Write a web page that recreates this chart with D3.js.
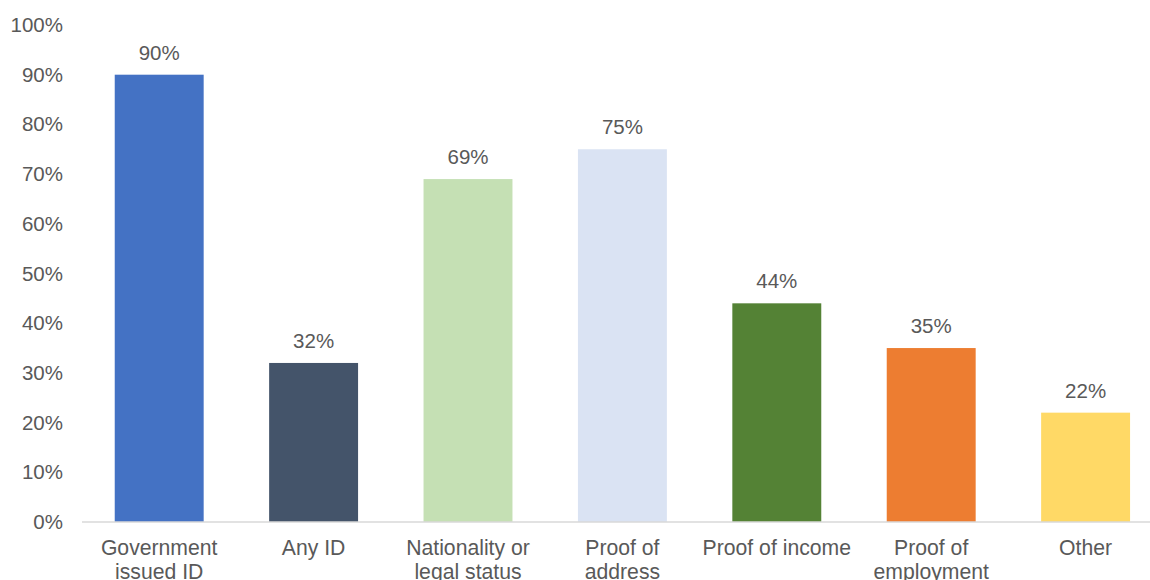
<!DOCTYPE html>
<html>
<head>
<meta charset="utf-8">
<script src="https://cdn.jsdelivr.net/npm/d3@7"></script>
<style>
  html, body { margin: 0; padding: 0; background: #fff; }
  svg { display: block; font-family: "Liberation Sans", Arial, sans-serif; }
</style>
</head>
<body>
<svg id="chart" width="1150" height="580"></svg>
<script>
// Documents requested, share of respondents
const categories = [
  ["Government", "issued ID"],
  ["Any ID"],
  ["Nationality or", "legal status"],
  ["Proof of", "address"],
  ["Proof of income"],
  ["Proof of", "employment"],
  ["Other"]
];
const values = [90, 32, 69, 75, 44, 35, 22];
const barColors = ["#4472C4", "#44546A", "#C5E0B4", "#DAE3F3", "#548235", "#ED7D31", "#FFD966"];
const yTicks = [0, 10, 20, 30, 40, 50, 60, 70, 80, 90, 100];

const svg = d3.select("#chart");
const textColor = "#595959";
const fontSize = 20.5;
const catFontSize = 21.2;

const keys = categories.map(c => c.join(" "));

const x = d3.scaleBand()
  .domain(keys)
  .range([82, 82 + 7 * 154.4])
  .paddingInner(0.424)
  .paddingOuter(0.212);

const y = d3.scaleLinear()
  .domain([0, 100])
  .range([522, 25]);

// Y axis labels (no axis line, no ticks)
const yAxis = d3.axisLeft(y)
  .tickValues(yTicks)
  .tickFormat(d => d + "%")
  .tickSize(0)
  .tickPadding(0);

const yg = svg.append("g")
  .attr("transform", "translate(63,0)")
  .call(yAxis);
yg.select(".domain").remove();
yg.selectAll("text")
  .attr("fill", textColor)
  .attr("font-size", fontSize)
  .attr("font-family", "Liberation Sans, Arial, sans-serif");

// Bars
svg.append("g").selectAll("rect")
  .data(values)
  .join("rect")
  .attr("x", (d, i) => x(keys[i]))
  .attr("y", d => y(d))
  .attr("width", x.bandwidth())
  .attr("height", d => y(0) - y(d))
  .attr("fill", (d, i) => barColors[i]);

// Baseline
svg.append("line")
  .attr("x1", x.range()[0])
  .attr("x2", x.range()[1])
  .attr("y1", y(0))
  .attr("y2", y(0))
  .attr("stroke", "#D9D9D9")
  .attr("stroke-width", 1.5);

// Value labels
svg.append("g").selectAll("text")
  .data(values)
  .join("text")
  .attr("x", (d, i) => x(keys[i]) + x.bandwidth() / 2)
  .attr("y", d => y(d) - 15)
  .attr("text-anchor", "middle")
  .attr("fill", textColor)
  .attr("font-size", fontSize)
  .text(d => d + "%");

// Category labels (second lines run to the bottom edge)
const cat = svg.append("g").selectAll("text")
  .data(categories)
  .join("text")
  .attr("x", (d, i) => x(keys[i]) + x.bandwidth() / 2)
  .attr("y", 555)
  .attr("text-anchor", "middle")
  .attr("fill", textColor)
  .attr("font-size", catFontSize);

cat.selectAll("tspan")
  .data(d => d)
  .join("tspan")
  .attr("x", function () { return d3.select(this.parentNode).attr("x"); })
  .attr("dy", (d, i) => i === 0 ? 0 : 24)
  .text(d => d);
</script>
</body>
</html>
